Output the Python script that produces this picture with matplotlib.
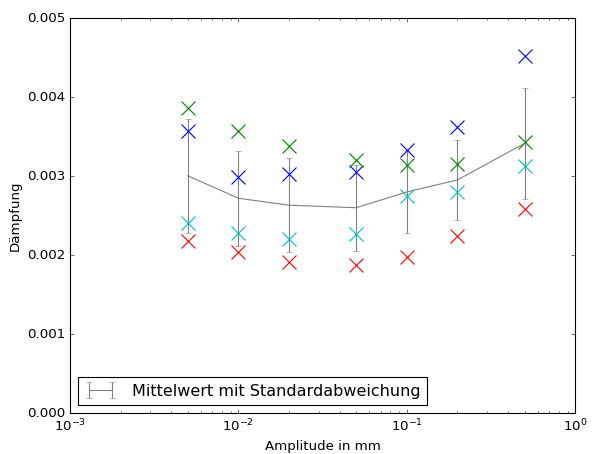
import numpy as np
import matplotlib
matplotlib.use('Agg')
import matplotlib.pyplot as plt

plt.style.use('classic')

# amplitudes in mm
amp = [0.005, 0.01, 0.02, 0.05, 0.1, 0.2, 0.5]

# measured damping, four series
d_blue = [0.00357, 0.00299, 0.00303, 0.00305, 0.00333, 0.00362, 0.00452]
d_green = [0.00386, 0.00357, 0.00338, 0.00320, 0.00314, 0.00315, 0.00343]
d_red = [0.00218, 0.00204, 0.00191, 0.00188, 0.00198, 0.00224, 0.00258]
d_cyan = [0.00241, 0.00228, 0.00221, 0.00227, 0.00275, 0.00280, 0.00313]

alle = np.array([d_blue, d_green, d_red, d_cyan])
mittel = alle.mean(axis=0)
std = alle.std(axis=0)

fig = plt.figure(figsize=(593/80., 454/80.), dpi=80)
ax = fig.add_subplot(111)
fig.subplots_adjust(left=0.118, right=0.97, top=0.96, bottom=0.09)

ax.errorbar(amp, mittel, yerr=std, color='gray', ecolor='gray', capsize=3,
            label='Mittelwert mit Standardabweichung')
ax.plot(amp, d_blue, 'bx', markersize=12, mew=1)
ax.plot(amp, d_green, 'gx', markersize=12, mew=1)
ax.plot(amp, d_red, 'rx', markersize=12, mew=1)
ax.plot(amp, d_cyan, 'cx', markersize=12, mew=1)

ax.set_xscale('log')
ax.set_xlim(1e-3, 1)
ax.set_ylim(0, 0.005)
ax.set_xlabel('Amplitude in mm')
ax.set_ylabel(u'D\u00e4mpfung')
ax.legend(loc='lower left', numpoints=2, handletextpad=1.0)

plt.savefig('out.png', dpi=80)
